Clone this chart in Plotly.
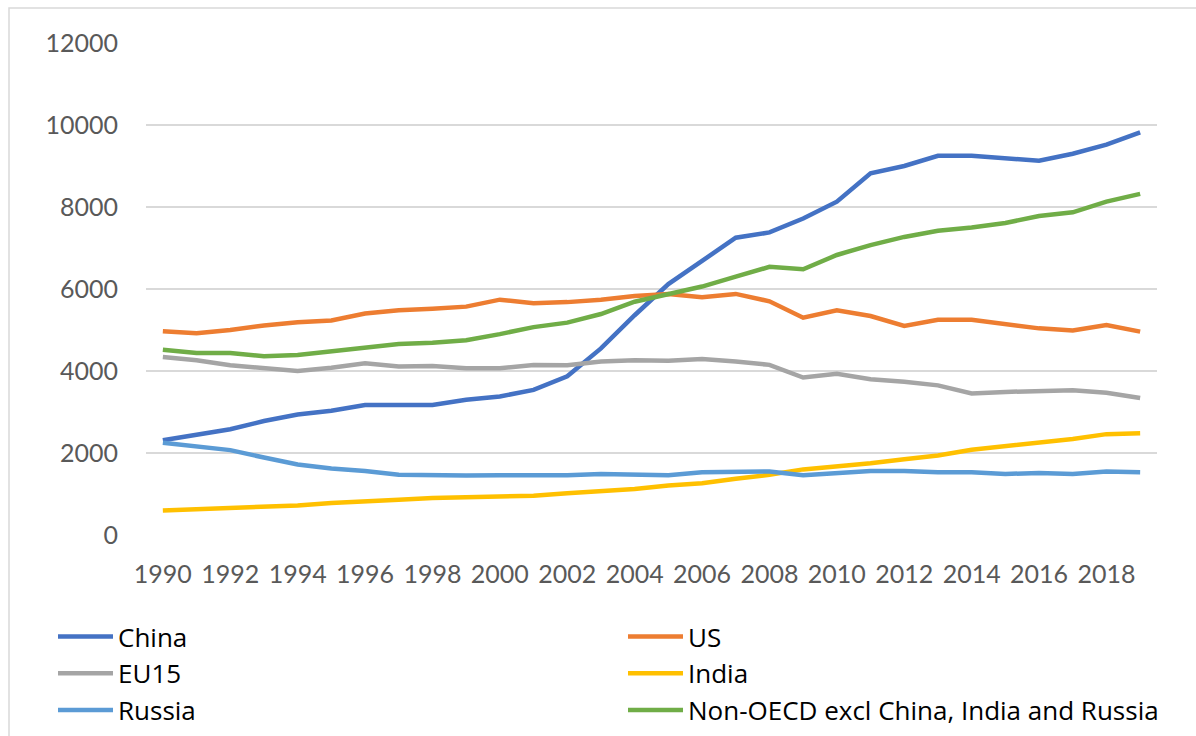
import plotly.graph_objects as go

years = list(range(1990, 2020))

china = [2310, 2455, 2580, 2780, 2940, 3030, 3170, 3170, 3170, 3300, 3380, 3540, 3870,
         4550, 5360, 6120, 6700, 7250, 7380, 7720, 8130, 8820, 9000, 9250, 9250, 9190,
         9130, 9300, 9520, 9820]
us = [4970, 4920, 5000, 5110, 5190, 5230, 5400, 5480, 5520, 5570, 5740, 5650, 5680,
      5740, 5830, 5880, 5800, 5880, 5700, 5300, 5480, 5340, 5100, 5250, 5250, 5140,
      5040, 4990, 5120, 4960]
eu15 = [4340, 4260, 4140, 4065, 4000, 4080, 4190, 4110, 4120, 4065, 4065, 4145, 4140,
        4230, 4260, 4250, 4290, 4230, 4150, 3840, 3930, 3800, 3740, 3650, 3450, 3490,
        3500, 3530, 3470, 3340]
india = [600, 630, 670, 690, 720, 780, 810, 860, 900, 920, 950, 960, 1020,
         1070, 1120, 1210, 1260, 1370, 1470, 1600, 1670, 1750, 1850, 1940, 2080, 2160,
         2250, 2340, 2460, 2480]
russia = [2250, 2170, 2070, 1890, 1720, 1620, 1560, 1470, 1450, 1450, 1455, 1455, 1460,
          1490, 1480, 1460, 1530, 1530, 1550, 1460, 1500, 1560, 1560, 1530, 1530, 1490,
          1510, 1490, 1550, 1530]
non_oecd = [4520, 4440, 4440, 4360, 4390, 4480, 4550, 4660, 4690, 4750, 4900, 5070, 5180,
            5390, 5690, 5870, 6060, 6300, 6540, 6480, 6830, 7070, 7270, 7420, 7500, 7610,
            7780, 7870, 8130, 8320]

series = [
    ("China", china, "#4472C4"),
    ("US", us, "#ED7D31"),
    ("EU15", eu15, "#A5A5A5"),
    ("India", india, "#FFC000"),
    ("Russia", russia, "#5B9BD5"),
    ("Non-OECD excl China, India and Russia", non_oecd, "#70AD47"),
]

x_ticks = list(range(1990, 2020, 2))
y_ticks = list(range(0, 12001, 2000))

fig = go.Figure()
for name, vals, col in series:
    fig.add_trace(go.Scatter(x=years, y=vals, name=name, mode="lines",
                             line=dict(color=col, width=4.5)))

FONT = "Lato"
LEG_FONT = "Open Sans"
L, R, T, B = 146, 39, 43, 201
W, H = 1196, 736
pw, ph = W - L - R, H - T - B

def px(xpix):
    return (xpix - L) / pw

def py(ypix):
    return (H - B - ypix) / ph

fig.update_layout(
    width=W, height=H,
    margin=dict(l=L, r=R, t=T, b=B, pad=0, autoexpand=False),
    paper_bgcolor="white", plot_bgcolor="white",
    font=dict(family=FONT, size=25, color="#595959"),
    showlegend=True,
    legend=dict(orientation="h", x=px(53), y=py(613), xanchor="left", yanchor="top",
                font=dict(family=LEG_FONT, size=26, color="#000000"),
                entrywidth=500, entrywidthmode="pixels", itemwidth=55,
                tracegroupgap=0, bgcolor="rgba(0,0,0,0)"),
    xaxis=dict(range=[1989.5, 2019.5], tickvals=x_ticks, ticktext=[str(v) for v in x_ticks],
               showgrid=False, zeroline=False, showline=False, ticks="",
               ticklabelstandoff=22, tickfont=dict(size=25, color="#595959")),
    yaxis=dict(range=[0, 12000], tickvals=y_ticks, ticktext=[str(v) for v in y_ticks],
               showgrid=True, gridcolor="#D9D9D9",
               gridwidth=1.5, zeroline=False, showline=False, ticks="",
               ticklabelstandoff=27, tickfont=dict(size=25, color="#595959")),
    shapes=[dict(type="rect", xref="paper", yref="paper",
                 x0=px(9), x1=px(1210), y0=py(8), y1=py(760),
                 line=dict(color="#D9D9D9", width=1.5), fillcolor="rgba(0,0,0,0)",
                 layer="below")],
)

fig.write_html("out.html")
